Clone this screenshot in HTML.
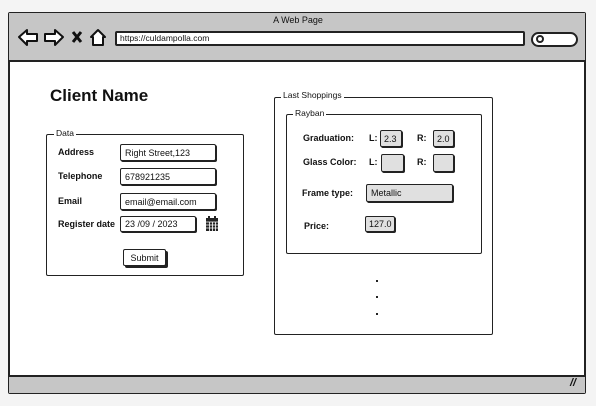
<!DOCTYPE html>
<html><head><style>
*{margin:0;padding:0;box-sizing:border-box}
body{width:596px;height:406px;background:#f4f4f4;position:relative;overflow:hidden;font-family:"Liberation Sans",sans-serif;color:#111}
.a{position:absolute}
.box{position:absolute;border:2px solid #222;border-radius:2px;background:#fff}
.lbl{position:absolute;font-size:9px;font-weight:bold}
.in{position:absolute;border:1.5px solid #222;border-radius:2px;background:#fff;font-size:9px;padding-left:4px;box-shadow:1px 1px 0 #222;display:flex;align-items:center}
.g{background:#e0e0e0}
.leg{position:absolute;font-size:8.5px;background:#fff;padding:0 2px}
.fs{position:absolute;border:1.5px solid #222;border-radius:2px}
</style></head><body>
<div class="box" style="left:8px;top:12px;width:578px;height:382px;background:#fff"></div>
<div class="a" style="left:9px;top:13px;width:576px;height:49px;background:#c6c6c6;border-bottom:2px solid #222"></div>
<div class="a" style="left:9px;top:375px;width:576px;height:18px;background:#c6c6c6;border-top:2px solid #222"></div>
<div class="a" style="left:570px;top:377px;font-size:11px;font-weight:bold;font-style:italic">//</div>
<div class="a" style="left:0;width:596px;top:15px;text-align:center;font-size:9px">A Web Page</div>
<svg class="a" style="left:15px;top:27px" width="95" height="22">
<path d="M4 10 L12 3 L12 7 L22 7 L22 14 L12 14 L12 18 Z" fill="#fff" stroke="#111" stroke-width="2" stroke-linejoin="round"/>
<path d="M48 10 L40 3 L40 7 L30 7 L30 14 L40 14 L40 18 Z" fill="#fff" stroke="#111" stroke-width="2" stroke-linejoin="round"/>
<path d="M58 5 L66 15 M66 5 L58 15" stroke="#111" stroke-width="3"/>
<path d="M83 3 L90 10 L88 10 L88 18 L78 18 L78 10 L76 10 Z" fill="#fff" stroke="#111" stroke-width="2" stroke-linejoin="round"/>
</svg>
<div class="a" style="left:115px;top:31px;width:410px;height:15px;border:2px solid #222;border-radius:2px;background:#fff;font-size:8.5px;padding-left:3px;line-height:11px">https://culdampolla.com</div>
<div class="a" style="left:531px;top:32px;width:47px;height:15px;border:2px solid #222;border-radius:8px;background:#fff"></div>
<div class="a" style="left:536px;top:35px;width:8px;height:8px;border:2px solid #222;border-radius:50%"></div>
<div class="a" style="left:50px;top:86px;font-size:17px;font-weight:bold">Client Name</div>

<div class="fs" style="left:46px;top:134px;width:198px;height:142px"></div>
<div class="leg" style="left:54px;top:128px">Data</div>
<div class="lbl" style="left:58px;top:147px">Address</div>
<div class="lbl" style="left:58px;top:171px">Telephone</div>
<div class="lbl" style="left:58px;top:196px">Email</div>
<div class="lbl" style="left:58px;top:219px">Register date</div>
<div class="in" style="left:120px;top:144px;width:96px;height:17px">Right Street,123</div>
<div class="in" style="left:120px;top:168px;width:96px;height:17px">678921235</div>
<div class="in" style="left:120px;top:193px;width:96px;height:17px">email@email.com</div>
<div class="in" style="left:120px;top:216px;width:76px;height:16px">23 /09 / 2023</div>
<svg class="a" style="left:205px;top:216px" width="14" height="16"><rect x="1" y="2" width="12" height="13" fill="#222"/><g stroke="#fff" stroke-width="0.8"><path d="M1 6h12M1 9h12M1 12h12M4.5 6v9M7.5 6v9M10.5 6v9"/></g><rect x="3" y="0" width="2" height="3" fill="#222"/><rect x="9" y="0" width="2" height="3" fill="#222"/></svg>
<div class="in" style="left:123px;top:249px;width:43px;height:17px;justify-content:center;padding:0;box-shadow:2px 2px 0 #222">Submit</div>

<div class="fs" style="left:274px;top:97px;width:219px;height:238px"></div>
<div class="leg" style="left:281px;top:90px">Last Shoppings</div>
<div class="fs" style="left:286px;top:114px;width:196px;height:140px"></div>
<div class="leg" style="left:293px;top:108px">Rayban</div>
<div class="lbl" style="left:303px;top:133px">Graduation:</div>
<div class="lbl" style="left:303px;top:157px">Glass Color:</div>
<div class="lbl" style="left:302px;top:188px">Frame type:</div>
<div class="lbl" style="left:304px;top:221px">Price:</div>
<div class="lbl" style="left:369px;top:133px">L:</div>
<div class="lbl" style="left:417px;top:133px">R:</div>
<div class="lbl" style="left:369px;top:157px">L:</div>
<div class="lbl" style="left:417px;top:157px">R:</div>
<div class="in g" style="left:380px;top:130px;width:22px;height:17px;padding-left:3px">2.3</div>
<div class="in g" style="left:433px;top:130px;width:21px;height:17px;padding-left:3px">2.0</div>
<div class="in g" style="left:381px;top:154px;width:23px;height:18px"></div>
<div class="in g" style="left:433px;top:154px;width:21px;height:18px"></div>
<div class="in g" style="left:366px;top:184px;width:87px;height:18px">Metallic</div>
<div class="in g" style="left:365px;top:216px;width:30px;height:16px;padding-left:3px">127.0</div>
<div class="a" style="left:376px;top:280px;width:2px;height:2px;background:#222"></div>
<div class="a" style="left:376px;top:296px;width:2px;height:2px;background:#222"></div>
<div class="a" style="left:376px;top:313px;width:2px;height:2px;background:#222"></div>
</body></html>
